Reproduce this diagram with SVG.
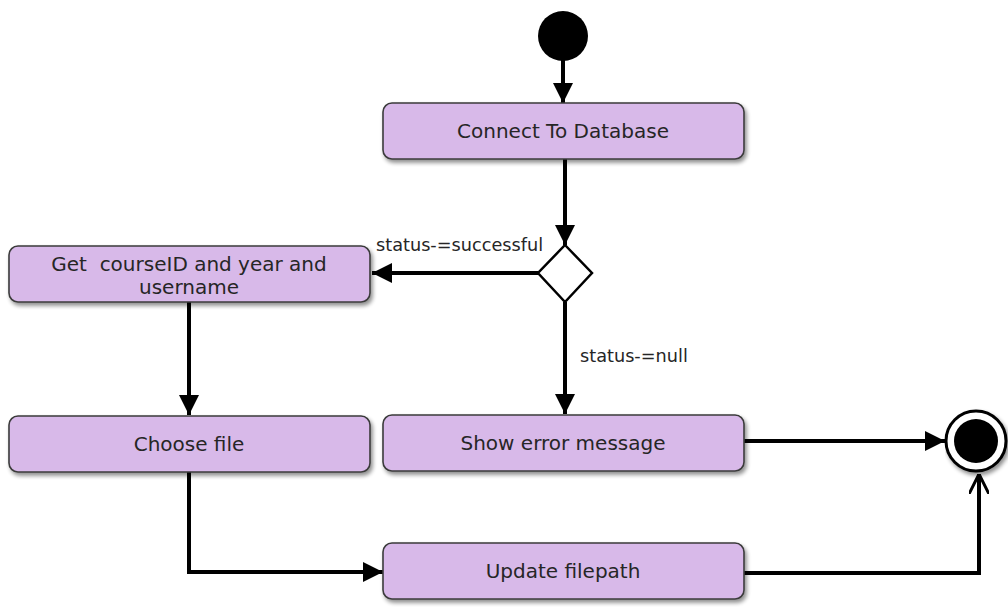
<svg xmlns="http://www.w3.org/2000/svg" width="1008" height="607" viewBox="0 0 1008 607">
<style>
.box{fill:#d8b9e9;stroke:#3b3b3b;stroke-width:1.6}
.lbl{font-family:"DejaVu Sans","Liberation Sans",Arial,sans-serif;font-size:20px;fill:#262626;text-anchor:middle}
.edge{font-family:"DejaVu Sans","Liberation Sans",Arial,sans-serif;font-size:17.7px;fill:#262626}
.ln{fill:none;stroke:#000;stroke-width:4}
</style>
<defs>
<filter id="sh" x="-5%" y="-20%" width="110%" height="150%">
<feGaussianBlur in="SourceAlpha" stdDeviation="2"/>
<feOffset dx="2" dy="3"/>
<feComponentTransfer><feFuncA type="linear" slope="0.45"/></feComponentTransfer>
<feMerge><feMergeNode/><feMergeNode in="SourceGraphic"/></feMerge>
</filter>
<marker id="ah" viewBox="0 0 20 20" refX="20" refY="10" markerWidth="20" markerHeight="20" markerUnits="userSpaceOnUse" orient="auto">
<path d="M0,0 L20,10 L0,20 z" fill="#000"/>
</marker>
<marker id="oa" viewBox="0 0 20 20" refX="20" refY="10" markerWidth="20" markerHeight="20" markerUnits="userSpaceOnUse" orient="auto">
<path d="M0,0 L20,10 L0,20" fill="none" stroke="#000" stroke-width="3"/>
</marker>
</defs>
<g id="connectors">
<line class="ln" x1="563" y1="60" x2="563" y2="103" marker-end="url(#ah)"/>
<line class="ln" x1="565" y1="159" x2="565" y2="245" marker-end="url(#ah)"/>
<line class="ln" x1="538" y1="273" x2="372" y2="273" marker-end="url(#ah)"/>
<text class="edge" x="376" y="251">status-=successful</text>
<line class="ln" x1="565" y1="302" x2="565" y2="414" marker-end="url(#ah)"/>
<text class="edge" x="580" y="362">status-=null</text>
<line class="ln" x1="189" y1="302" x2="189" y2="415" marker-end="url(#ah)"/>
<polyline class="ln" points="189,472 189,572 383,572" marker-end="url(#ah)"/>
<line class="ln" x1="744" y1="441" x2="945" y2="441" marker-end="url(#ah)"/>
<polyline class="ln" points="744,573 979,573 979,474" marker-end="url(#oa)"/>
</g>
<g id="start"><circle cx="563" cy="36" r="25" fill="#000"/></g>
<g id="connect"><rect class="box" filter="url(#sh)" x="383" y="103" width="361" height="56" rx="9"/><text class="lbl" x="563" y="138">Connect To Database</text></g>
<g id="decision"><polygon points="565,245 592,273 565,302 538,273" fill="#fff" stroke="#000" stroke-width="2.5"/></g>
<g id="getinfo"><rect class="box" filter="url(#sh)" x="9" y="246" width="361" height="56" rx="9"/><text class="lbl" x="189" y="271" xml:space="preserve">Get  courseID and year and</text><text class="lbl" x="189" y="294">username</text></g>
<g id="choose"><rect class="box" filter="url(#sh)" x="9" y="416" width="361" height="56" rx="9"/><text class="lbl" x="189" y="451">Choose file</text></g>
<g id="error"><rect class="box" filter="url(#sh)" x="383" y="415" width="361" height="56" rx="9"/><text class="lbl" x="563" y="450">Show error message</text></g>
<g id="update"><rect class="box" filter="url(#sh)" x="383" y="543" width="361" height="56" rx="9"/><text class="lbl" x="563" y="578">Update filepath</text></g>
<g id="end" filter="url(#sh)"><circle cx="976" cy="441" r="30" fill="#fff" stroke="#000" stroke-width="3"/><circle cx="976" cy="441" r="22" fill="#000"/></g>
</svg>
